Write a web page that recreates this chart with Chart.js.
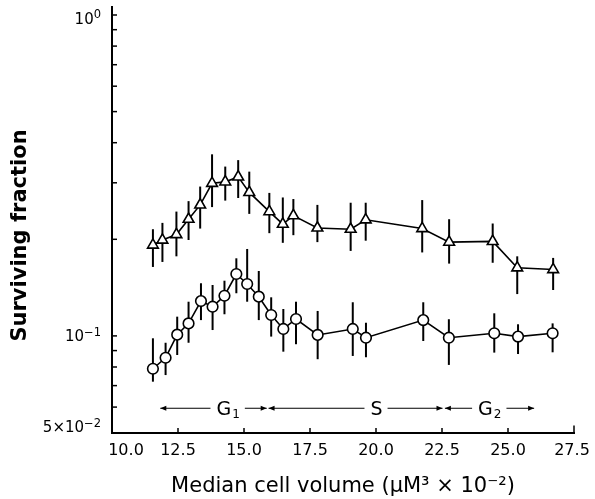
<!DOCTYPE html>
<html><head><meta charset="utf-8">
<script src="https://cdn.jsdelivr.net/npm/chart.js@4"></script>
<style>html,body{margin:0;padding:0;background:#fff;} #wrap{width:595px;height:499px;}</style>
</head><body><div id="wrap"><canvas id="c" width="595" height="499"></canvas></div>
<script>
// ---- data ----
const triX  = [11.55,11.91,12.44,12.90,13.34,13.79,14.29,14.78,15.20,15.96,16.47,16.87,17.78,19.04,19.61,21.75,22.77,24.42,25.35,26.71];
const triY  = [0.192,0.199,0.207,0.231,0.256,0.299,0.302,0.313,0.280,0.244,0.223,0.237,0.217,0.215,0.230,0.216,0.196,0.197,0.163,0.161];
const triHi = [0.215,0.225,0.244,0.263,0.292,0.368,0.337,0.353,0.325,0.279,0.270,0.267,0.256,0.260,0.260,0.265,0.231,0.224,0.177,0.175];
const triLo = [0.164,0.170,0.177,0.199,0.216,0.252,0.264,0.269,0.240,0.209,0.195,0.206,0.196,0.184,0.198,0.182,0.168,0.169,0.135,0.139];

const circX  = [11.55,12.03,12.47,12.90,13.37,13.81,14.26,14.71,15.12,15.56,16.03,16.49,16.97,17.79,19.12,19.62,21.79,22.76,24.48,25.38,26.69];
const circY  = [0.0790,0.0855,0.1009,0.1094,0.1284,0.1233,0.1334,0.1559,0.1451,0.1325,0.1162,0.1051,0.1129,0.1007,0.1051,0.0987,0.1120,0.0987,0.1019,0.0995,0.1019];
const circHi = [0.0983,0.0952,0.1148,0.1278,0.1459,0.1441,0.1486,0.1745,0.1866,0.1593,0.1319,0.1213,0.1278,0.1196,0.1273,0.1099,0.1273,0.1127,0.1176,0.1087,0.1094];
const circLo = [0.0720,0.0755,0.0872,0.0952,0.1120,0.1043,0.1168,0.1358,0.1278,0.1120,0.0995,0.0893,0.0942,0.0846,0.0866,0.0858,0.0964,0.0812,0.0887,0.0878,0.0889];

const xTickValues = [10,12.5,15,17.5,20,22.5,25,27.5];
const xTickLabels = ['10.0','12.5','15.0','17.5','20.0','22.5','25.0','27.5'];
const yTickValues = [0.05,0.06,0.07,0.08,0.09,0.1,0.2,0.3,0.4,0.5,0.6,0.7,0.8,0.9,1];
const yLabelValues = [0.05,0.1,1];
const yLabelBase = ['5×10','10','10'];
const yLabelExp  = ['−2','−1','0'];

const phaseNames  = ['G','S','G'];
const phaseSubs   = ['1','','2'];
const phaseStart  = [11.83,15.93,22.61];
const phaseEnd    = [15.86,22.52,25.99];
const phaseCenter = [14.40,20.02,24.31];
const phaseY = 0.0595;

const xTitle = 'Median cell volume (μM³ × 10⁻²)';
const yTitle = 'Surviving fraction';

// ---- plugin: error bars, ticks, labels, annotations ----
const FONT = '"DejaVu Sans", sans-serif';
const decor = {
  id: 'decor',
  beforeDatasetsDraw(chart) {
    const ctx = chart.ctx, xs = chart.scales.x, ys = chart.scales.y;
    ctx.save();
    ctx.strokeStyle = '#000';
    ctx.lineWidth = 2;
    const sets = [[triX, triLo, triHi], [circX, circLo, circHi]];
    sets.forEach(([xv, lo, hi]) => {
      xv.forEach((x, i) => {
        const px = xs.getPixelForValue(x);
        ctx.beginPath();
        ctx.moveTo(px, ys.getPixelForValue(hi[i]));
        ctx.lineTo(px, ys.getPixelForValue(lo[i]));
        ctx.stroke();
      });
    });
    ctx.restore();
  },
  afterDraw(chart) {
    const ctx = chart.ctx, xs = chart.scales.x, ys = chart.scales.y;
    const ca = chart.chartArea;
    ctx.save();
    ctx.strokeStyle = '#000';
    ctx.fillStyle = '#000';
    // extend y axis line slightly above top
    ctx.lineWidth = 2;
    ctx.beginPath(); ctx.moveTo(ca.left, ca.top - 9); ctx.lineTo(ca.left, ca.top); ctx.stroke();
    // inward ticks
    ctx.lineWidth = 1.5;
    yTickValues.forEach(v => {
      if (v === ys.min) return;
      const py = ys.getPixelForValue(v);
      ctx.beginPath(); ctx.moveTo(ca.left, py); ctx.lineTo(ca.left + 5, py); ctx.stroke();
    });
    xTickValues.forEach(v => {
      if (v === xs.min) return;
      const px = xs.getPixelForValue(v);
      ctx.beginPath(); ctx.moveTo(px, ca.bottom); ctx.lineTo(px, ca.bottom - (v === xs.max ? 7 : 4.5)); ctx.stroke();
    });
    // x tick labels
    ctx.font = '16px ' + FONT;
    ctx.textAlign = 'center';
    ctx.textBaseline = 'alphabetic';
    xTickValues.forEach((v, i) => {
      let px = xs.getPixelForValue(v);
      if (i === 0) px += 14;
      if (i === xTickValues.length - 1) px -= 2;
      ctx.fillText(xTickLabels[i], px, ca.bottom + 16.5 + 5.8);
    });
    // y tick labels with superscripts
    ctx.textAlign = 'left';
    yLabelValues.forEach((v, i) => {
      let py = ys.getPixelForValue(v);
      if (i === 0) py -= 6;
      if (i === yLabelValues.length - 1) py += 3;
      ctx.font = '11.5px ' + FONT;
      const we = ctx.measureText(yLabelExp[i]).width;
      ctx.font = '15px ' + FONT;
      const wb = ctx.measureText(yLabelBase[i]).width;
      const right = ca.left - 11;
      const base = py + 5.5;
      ctx.fillText(yLabelBase[i], right - we - wb, base);
      ctx.font = '11.5px ' + FONT;
      ctx.fillText(yLabelExp[i], right - we, base - 5.5);
    });
    // y title
    ctx.save();
    ctx.translate(20.5, 235.5);
    ctx.rotate(-Math.PI / 2);
    ctx.font = 'bold 21px ' + FONT;
    ctx.textAlign = 'center';
    ctx.textBaseline = 'middle';
    ctx.fillText(yTitle, 0, 0);
    ctx.restore();
    // phase annotations
    const py = ys.getPixelForValue(phaseY);
    ctx.lineWidth = 1;
    const arrow = (tipX, dir) => {
      ctx.beginPath();
      ctx.moveTo(tipX, py);
      ctx.lineTo(tipX - dir * 6, py - 2.6);
      ctx.lineTo(tipX - dir * 6, py + 2.6);
      ctx.closePath();
      ctx.fill();
    };
    phaseNames.forEach((name, i) => {
      ctx.font = '19px ' + FONT;
      const wn = ctx.measureText(name).width;
      ctx.font = '12px ' + FONT;
      const ws = phaseSubs[i] ? ctx.measureText(phaseSubs[i]).width + 1 : 0;
      const w = wn + ws;
      const cx = xs.getPixelForValue(phaseCenter[i]);
      const left = cx - w / 2, right = cx + w / 2;
      ctx.font = '19px ' + FONT;
      ctx.textAlign = 'left';
      ctx.fillText(name, left, py + 6.9);
      if (phaseSubs[i]) {
        ctx.font = '12px ' + FONT;
        ctx.fillText(phaseSubs[i], left + wn + 1, py + 9.5);
      }
      const sx = xs.getPixelForValue(phaseStart[i]);
      const ex = xs.getPixelForValue(phaseEnd[i]);
      ctx.beginPath();
      ctx.moveTo(sx, py); ctx.lineTo(left - 6, py);
      ctx.moveTo(right + 5, py); ctx.lineTo(ex, py);
      ctx.stroke();
      arrow(sx, -1);
      arrow(ex, 1);
    });
    ctx.restore();
  }
};

new Chart(document.getElementById('c'), {
  type: 'line',
  data: {
    datasets: [
      {
        data: triX.map((x, i) => ({x, y: triY[i]})),
        borderColor: '#000', borderWidth: 1.6, tension: 0, fill: false,
        pointStyle: 'triangle', pointRadius: 6.2, pointBackgroundColor: '#fff',
        pointBorderColor: '#000', pointBorderWidth: 1.6
      },
      {
        data: circX.map((x, i) => ({x, y: circY[i]})),
        borderColor: '#000', borderWidth: 1.6, tension: 0, fill: false,
        pointStyle: 'circle', pointRadius: 5.3, pointBackgroundColor: '#fff',
        pointBorderColor: '#000', pointBorderWidth: 1.6
      }
    ]
  },
  options: {
    responsive: false, animation: false, devicePixelRatio: 1,
    layout: {padding: {left: 0, right: 21, top: 15, bottom: 0}},
    plugins: {legend: {display: false}, tooltip: {enabled: false}},
    scales: {
      x: {
        type: 'linear', min: 10, max: 27.5,
        afterBuildTicks: s => { s.ticks = xTickValues.map(v => ({value: v})); },
        ticks: {display: false},
        grid: {display: false, drawTicks: false},
        border: {display: true, color: '#000', width: 2},
        afterFit: s => { s.height = 66.5; },
        title: {display: true, text: xTitle, color: '#000',
                font: {family: 'DejaVu Sans', size: 21}, padding: {top: 0, bottom: 0}}
      },
      y: {
        type: 'logarithmic', min: 0.05, max: 1,
        afterBuildTicks: s => { s.ticks = yTickValues.map(v => ({value: v})); },
        ticks: {display: false},
        grid: {display: false, drawTicks: false},
        border: {display: true, color: '#000', width: 2},
        afterFit: s => { s.width = 112; }
      }
    }
  },
  plugins: [decor]
});
</script>
</body></html>
